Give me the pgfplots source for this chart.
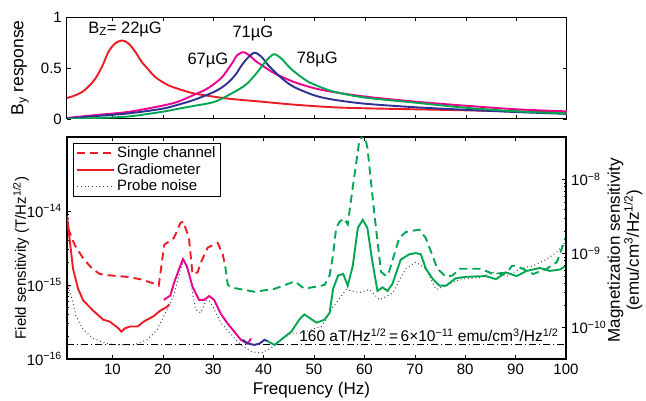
\documentclass[border=0pt]{standalone}
\usepackage{fontspec}
\setmainfont{Liberation Sans}
\usepackage{pgfplots}
\pgfplotsset{compat=1.18}
\definecolor{cred}{RGB}{237,28,36}
\definecolor{cmag}{RGB}{236,0,140}
\definecolor{cblue}{RGB}{46,49,146}
\definecolor{cgreen}{RGB}{0,166,81}
\definecolor{cdot}{RGB}{60,60,60}
\newcommand{\fs}{\fontsize{15}{17}\selectfont}
\newcommand{\fl}{\fontsize{17}{19}\selectfont}
\pgfplotsset{
  panel/.style={
    scale only axis, anchor=south west,
    xmin=1, xmax=100,
    tick align=inside,
    tick label style={font=\fs},
    label style={font=\fl},
    axis line style={line width=1pt},
    every tick/.style={black, line width=0.5pt},
    major tick length=4pt, minor tick length=2.2pt,
  },
  sc/.style={line width=1.9pt, dash pattern=on 8pt off 5pt},
  gr/.style={line width=1.9pt},
  pn/.style={cdot, line width=1pt, dash pattern=on 0.9pt off 2.8pt},
}
\begin{document}
\fs
\begin{tikzpicture}
\useasboundingbox (0pt,0pt) rectangle (646pt,400pt);

% top: By response
\begin{axis}[panel,
  at={(67pt,281pt)}, width=500pt, height=102pt,
  ymin=0, ymax=1,
  xtick={10,20,...,90}, xticklabels={},
  ytick={0,0.5,1}, yticklabels={0,0.5,1},
  ylabel={B\textsubscript{y} response},
  ylabel style={font=\fontsize{17.5}{19}\selectfont, at={(axis description cs:-0.094,0.5)}, anchor=center},
]
\addplot[cred, line width=1.9pt, smooth] coordinates {
(1,0.206)(2.5,0.23)(4,0.265)(5.3,0.32)(6.6,0.395)(8,0.52)(9.2,0.657)(10.5,0.74)
(11.9,0.77)(13.2,0.74)(14.5,0.66)(15.8,0.56)(17.2,0.48)(18.5,0.41)(21.1,0.33)
(25,0.265)(27.3,0.24)(32.9,0.2)(39.5,0.17)(46.1,0.14)(53.7,0.115)(60,0.105)
(70,0.095)(80,0.085)(90,0.075)(100,0.065)};
\addplot[cmag, line width=1.9pt, smooth] coordinates {
(1,0.01)(7,0.04)(13.2,0.07)(19.8,0.13)(23,0.17)(26.3,0.24)(28.5,0.29)(30.3,0.35)
(31.7,0.41)(32.9,0.49)(34,0.57)(34.6,0.62)(35.9,0.655)(37.2,0.62)(38.3,0.57)
(39.5,0.53)(41,0.48)(42.8,0.43)(46.1,0.36)(50.1,0.30)(53.7,0.265)(60,0.22)
(70,0.17)(80,0.13)(90,0.095)(100,0.075)};
\addplot[cblue, line width=1.9pt, smooth] coordinates {
(1,0.005)(7,0.03)(13.2,0.055)(19.8,0.10)(23,0.14)(26.3,0.19)(30.3,0.27)(32.5,0.34)
(34.3,0.43)(35.5,0.52)(36.6,0.59)(38.1,0.65)(39.5,0.61)(40.8,0.53)(42.2,0.46)
(44,0.38)(46.1,0.31)(50.1,0.23)(53.7,0.19)(60,0.15)(70,0.115)(80,0.09)
(90,0.068)(100,0.05)};
\addplot[cgreen, line width=1.9pt, smooth] coordinates {
(1,0.0)(7,0.01)(13.2,0.025)(19.8,0.07)(23,0.10)(26.3,0.13)(30.3,0.17)(34.3,0.27)
(36.5,0.34)(38.2,0.43)(39.5,0.51)(40.5,0.575)(42.0,0.635)(43.5,0.59)(44.8,0.52)
(46.1,0.46)(47.7,0.40)(49.4,0.35)(53.7,0.27)(60,0.21)(70,0.16)(80,0.11)
(90,0.075)(100,0.055)};
\begin{scope}[every node/.style={font=\fontsize{16.5}{18}\selectfont}]
\node[anchor=west] at (axis cs:4.2,0.88) {B\textsubscript{Z}= 22µG};
\node at (axis cs:37.8,0.84) {71µG};
\node at (axis cs:28.9,0.57) {67µG};
\node[anchor=west] at (axis cs:45.5,0.58) {78µG};
\end{scope}
\end{axis}

% bottom: field sensitivity
\begin{axis}[panel,
  at={(67pt,41pt)}, width=499pt, height=222pt,
  axis line style={line width=1.2pt},
  ymode=log, ymin=1e-16, ymax=1e-13,
  ytick pos=left,
  xtick={10,20,...,100}, xticklabels={10,20,30,40,50,60,70,80,90,100},
  ytick={1e-16,1e-15,1e-14},
  yticklabels={10\textsuperscript{−16},10\textsuperscript{−15},10\textsuperscript{−14}},
  xlabel={Frequency (Hz)},
  xlabel style={at={(axis description cs:0.49,-0.16)}, anchor=base},
  ylabel={Field sensitivity (T/Hz\textsuperscript{1/2})},
  ylabel style={font=\fs, at={(axis description cs:-0.092,0.455)}, anchor=center},
  legend style={at={(axis description cs:0.012,0.973)}, anchor=north west,
    font=\fs, draw=black, line width=0.6pt, inner xsep=3pt, inner ysep=1.5pt, row sep=-0.5pt},
  legend cell align=left,
  legend image code/.code={\draw[#1] (1pt,0pt) -- (38pt,0pt);},
]
\addlegendimage{cred, sc}
\addlegendentry{Single channel}
\addlegendimage{cred, gr}
\addlegendentry{Gradiometer}
\addlegendimage{pn}
\addlegendentry{Probe noise}

% probe noise
\addplot[pn, forget plot] coordinates {
(1.0,1.2e-15)(1.8,7.2e-16)(2.8,3.8e-16)(4.2,2.5e-16)(6.2,1.9e-16)(8.8,1.62e-16)
(11.5,1.55e-16)(14.2,1.55e-16)(16.9,1.82e-16)(18.9,2.5e-16)(20.2,3.8e-16)
(22.2,7.2e-16)(23.5,1.62e-15)(24.2,2.14e-15)(25.2,1.48e-15)(26.5,4.7e-16)
(27.5,4.2e-16)(28.9,6.8e-16)(30.2,4.7e-16)(31.5,3.1e-16)(33.6,2.14e-16)
(35.5,1.55e-16)(37.5,1.26e-16)(39.5,1.2e-16)(41.5,1.41e-16)(43.5,1.82e-16)
(45.5,2.24e-16)(47.5,2.24e-16)(49.5,2.5e-16)(51.5,2.75e-16)(53.8,5.1e-16)
(56.4,8.7e-16)(59.0,7.9e-16)(61.0,8.7e-16)(63.0,6.3e-16)(65.6,7.8e-16)
(68.2,1.66e-15)(70.2,2.04e-15)(72.2,1.66e-15)(74.2,8.7e-16)(76.2,9.8e-16)
(79.0,1.2e-15)(83,1.26e-15)(85.6,1.48e-15)(88.3,1.32e-15)(90.9,1.66e-15)
(93.5,1.82e-15)(96.2,2.24e-15)(98.2,2.8e-15)(100,3.9e-15)};
% 160 aT line
\addplot[black, line width=0.6pt, dash pattern=on 7pt off 3pt on 1pt off 3pt, forget plot]
  coordinates {(1,1.6e-16)(100,1.6e-16)};

% single channel
\addplot[cred, sc, forget plot] coordinates {
(1.2,5.9e-15)(2.5,3.5e-15)(4.2,2.3e-15)(6.0,1.66e-15)(7.5,1.41e-15)(9.5,1.35e-15)
(12.8,1.29e-15)(15.5,1.2e-15)(18.2,1.05e-15)(19.2,9.8e-16)(20.3,3.5e-15)
(22.2,4.3e-15)(23.5,6.9e-15)(24.1,7.2e-15)(25.2,4.3e-15)(25.9,1.41e-15)
(26.9,1.48e-15)(27.6,2.04e-15)(28.9,3.2e-15)(30.9,3.7e-15)(31.9,2.6e-15)
(32.4,1.78e-15)};
\addplot[cgreen, sc, forget plot] coordinates {
(32.4,1.78e-15)(32.9,1.0e-15)(34.2,9.1e-16)(38.2,8.1e-16)(42.2,8.9e-16)
(46.2,1.12e-15)(48.1,8.9e-16)(52.1,1.0e-15)(53.1,1.35e-15)(53.8,2.6e-15)
(54.4,5.9e-15)(55.1,7.2e-15)(56.0,7.9e-15)(56.7,6.6e-15)(57.7,2.1e-14)
(59.0,8.9e-14)(60.0,1.1e-13)(60.6,7.2e-14)(62.0,8.9e-15)(63.3,1.51e-15)
(64.3,1.32e-15)(64.9,1.51e-15)(66.9,4.3e-15)(68.2,5.2e-15)(70.9,5.6e-15)
(72.2,4.3e-15)(74.5,1.66e-15)(76.2,1.29e-15)(77.5,1.35e-15)(79.0,1.66e-15)
(83.0,1.66e-15)(85.6,1.41e-15)(88.3,1.48e-15)(89.3,1.82e-15)(90.2,1.82e-15)
(93.5,1.41e-15)(96.2,1.66e-15)(98.2,2.04e-15)(100,4.5e-15)};

% gradiometer
\addplot[cred, gr, forget plot] coordinates {
(1.0,8.5e-15)(1.5,4.3e-15)(2.2,1.66e-15)(3.2,8.9e-16)(4.2,6.2e-16)(6.2,4.5e-16)
(8.2,3.4e-16)(9.5,3.2e-16)(11.2,2.6e-16)(11.8,2.34e-16)(12.5,2.6e-16)
(13.5,2.75e-16)(15.0,2.75e-16)(16.2,3.2e-16)(18.2,3.8e-16)(19.5,4.5e-16)
(20.9,5.1e-16)(21.3,5.5e-16)};
\addplot[cmag, gr, forget plot] coordinates {
(20.2,6.3e-16)(21.5,7.2e-16)(22.2,1.05e-15)(23.2,1.62e-15)(24.0,2.24e-15)
(24.8,1.78e-15)(25.9,9.5e-16)(27.2,6.3e-16)(28.2,6.3e-16)(29.2,7.1e-16)
(30.2,6.3e-16)(31.5,4.1e-16)(32.9,3.0e-16)(34.2,2.34e-16)(35.5,1.82e-16)
(36.7,1.62e-16)(37.2,1.74e-16)(37.5,1.9e-16)};
\addplot[cblue, gr, forget plot] coordinates {
(35.8,1.82e-16)(36.9,1.62e-16)(38.2,1.55e-16)(39.2,1.62e-16)(40.2,1.82e-16)
(40.8,1.74e-16)};
\addplot[cgreen, gr, forget plot] coordinates {
(40.8,1.74e-16)(42.2,1.55e-16)(44.2,2.0e-16)(45.5,2.34e-16)(47.2,3.5e-16)
(48.1,4.0e-16)(50.5,3.1e-16)(52.1,3.4e-16)(53.1,4.2e-16)(53.8,8.9e-16)
(54.8,1.35e-15)(55.8,1.41e-15)(56.7,9.8e-16)(57.7,1.82e-15)(58.7,5.9e-15)
(59.7,7.6e-15)(60.6,5.9e-15)(61.6,2.04e-15)(62.6,8.3e-16)(63.6,9.3e-16)
(64.6,8.3e-16)(65.6,1.05e-15)(67.2,2.2e-15)(68.9,2.6e-15)(70.2,2.7e-15)
(71.2,2.6e-15)(72.2,1.66e-15)(73.6,1.2e-15)(74.9,9.8e-16)(76.2,9.8e-16)
(78.1,1.23e-15)(80.1,1.29e-15)(84.1,1.32e-15)(86.1,1.2e-15)(88.1,1.48e-15)
(90.2,1.32e-15)(92.2,1.55e-15)(94.8,1.7e-15)(96.8,1.55e-15)(98.8,1.62e-15)
(100,1.82e-15)};

\node[anchor=base, font=\fontsize{15.5}{17}\selectfont] at (axis cs:72.8,1.7e-16)
  {160 aT/Hz\textsuperscript{1/2}\,=\,6×10\textsuperscript{−11} emu/cm\textsuperscript{3}/Hz\textsuperscript{1/2}};
\end{axis}

% right axis: magnetization sensitivity
\begin{axis}[panel,
  at={(67pt,41pt)}, width=499pt, height=222pt,
  axis line style={line width=1.2pt},
  hide x axis, axis y line*=right, y axis line style={-},
  ymode=log, ymin=3.75e-11, ymax=3.75e-8,
  ytick={1e-10,1e-9,1e-8},
  yticklabels={10\textsuperscript{−10},10\textsuperscript{−9},10\textsuperscript{−8}},
  ylabel={Magnetization sensitivity\\(emu/cm\textsuperscript{3}/Hz\textsuperscript{1/2})},
  ylabel style={at={(axis description cs:1.118,0.49)}, anchor=center, align=center},
]
\addplot[draw=none, forget plot] coordinates {(1,1e-10)(100,1e-9)};
\end{axis}
\end{tikzpicture}
\end{document}
